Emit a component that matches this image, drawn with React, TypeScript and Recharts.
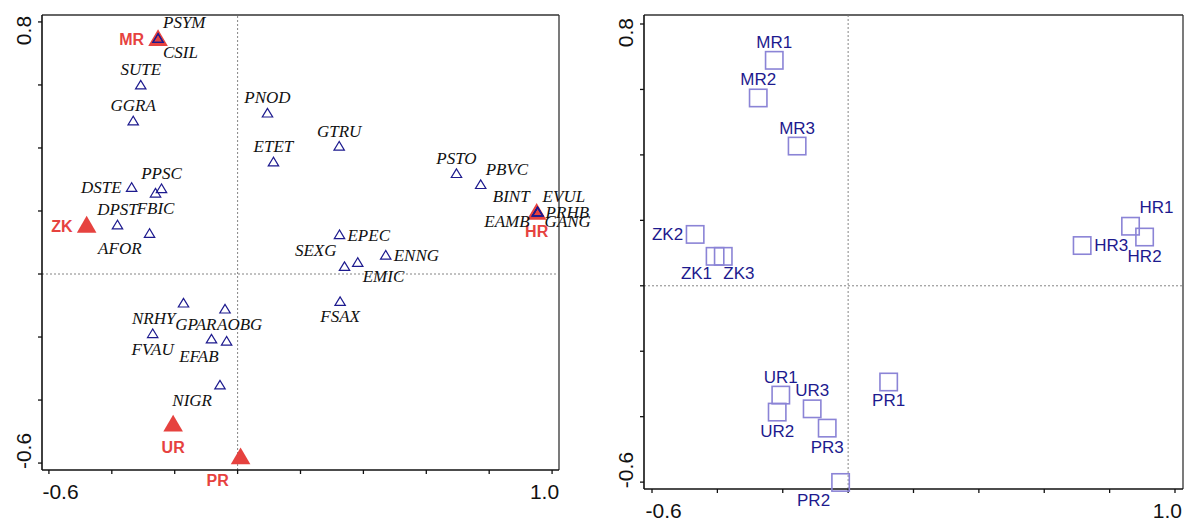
import React from 'react';
import { ScatterChart, Scatter, XAxis, YAxis, ReferenceLine } from 'recharts';

// ---------- data ----------
const xTicks = [-0.6, -0.4, -0.2, 0, 0.2, 0.4, 0.6, 0.8, 1.0];
const yTicks = [-0.6, -0.4, -0.2, 0, 0.2, 0.4, 0.6, 0.8];

const speciesNames = ['PSYM', 'CSIL', 'SUTE', 'GGRA', 'PNOD', 'ETET', 'GTRU', 'PSTO', 'PBVC', 'BINT', 'EVUL', 'PRHB', 'EAMB', 'GANG', 'DSTE', 'PPSC', 'FBIC', 'DPST', 'AFOR', 'EPEC', 'ENNG', 'SEXG', 'EMIC', 'FSAX', 'NRHY', 'AOBG', 'FVAU', 'GPAR', 'EFAB', 'NIGR'];
const speciesAxis1 = [-0.253, -0.253, -0.308, -0.332, 0.095, 0.114, 0.323, 0.696, 0.773, 0.954, 0.954, 0.954, 0.954, 0.954, -0.337, -0.242, -0.261, -0.382, -0.28, 0.324, 0.471, 0.34, 0.382, 0.326, -0.172, -0.04, -0.27, -0.083, -0.035, -0.056];
const speciesAxis2 = [0.748, 0.748, 0.6, 0.486, 0.511, 0.356, 0.406, 0.319, 0.284, 0.197, 0.197, 0.197, 0.197, 0.197, 0.275, 0.271, 0.257, 0.156, 0.129, 0.125, 0.06, 0.024, 0.037, -0.087, -0.092, -0.111, -0.189, -0.206, -0.213, -0.352];
const speciesLabelSide = ['aboveRight', 'belowRight', 'above', 'above', 'above', 'above', 'above', 'above', 'aboveRight', 'aboveLeft', 'aboveRight', 'right', 'lowLeft', 'lowRight', 'left', 'above', 'below', 'above', 'belowLeft', 'right', 'right', 'aboveLeft', 'belowRight', 'below', 'belowLeft', 'belowStart', 'below', 'aboveEnd', 'belowLeft', 'belowLeft'];

const envNames = ['MR', 'ZK', 'HR', 'UR', 'PR'];
const envAxis1 = [-0.253, -0.48, 0.951, -0.205, 0.0095];
const envAxis2 = [0.748, 0.156, 0.197, -0.475, -0.579];
const envLabelSide = ['left', 'left', 'belowNear', 'below', 'belowLeft'];

const sampleNames = ['MR1', 'MR2', 'MR3', 'ZK1', 'ZK2', 'ZK3', 'HR1', 'HR2', 'HR3', 'UR1', 'UR2', 'UR3', 'PR1', 'PR2', 'PR3'];
const sampleAxis1 = [-0.226, -0.275, -0.156, -0.407, -0.468, -0.382, 0.864, 0.907, 0.716, -0.206, -0.217, -0.11, 0.124, -0.023, -0.064];
const sampleAxis2 = [0.689, 0.574, 0.427, 0.09, 0.157, 0.09, 0.182, 0.149, 0.123, -0.334, -0.386, -0.376, -0.294, -0.601, -0.435];
const sampleLabelSide = ['above', 'above', 'above', 'belowLeftNear', 'left', 'belowRightNear', 'aboveRight', 'below', 'right', 'above', 'below', 'above', 'below', 'belowLeft', 'below'];

// ---------- layout / style ----------
const LEFT_DOMAIN_X: [number, number] = [-0.622, 1.022];
const LEFT_DOMAIN_Y: [number, number] = [-0.622, 0.822];
const RIGHT_DOMAIN_X: [number, number] = [-0.6245, 1.0245];
const RIGHT_DOMAIN_Y: [number, number] = [-0.621, 0.8275];

const SANS = '"Liberation Sans", Arial, sans-serif';
const SERIF = '"Liberation Serif", "Times New Roman", serif';
const NAVY = '#1d1a8e';
const RED = '#e6423f';
const LAVENDER = '#8b84d6';

type Anchor = 'start' | 'middle' | 'end';
const SPECIES_OFFSETS: Record<string, [Anchor, number, number]> = {
  above: ['middle', 0, -9.5],
  below: ['middle', 0, 21],
  left: ['end', -10, 6],
  right: ['start', 8, 6],
  aboveRight: ['start', 5, -10],
  aboveLeft: ['end', -8, -10],
  belowRight: ['start', 5, 20],
  belowLeft: ['end', -8, 21],
  lowLeft: ['end', -8, 15],
  lowRight: ['start', 7, 15],
  belowStart: ['start', -8, 21],
  aboveEnd: ['end', 5, -9],
};
const ENV_OFFSETS: Record<string, [Anchor, number, number]> = {
  left: ['end', -14, 7],
  below: ['middle', 0, 29.5],
  belowNear: ['middle', 0, 25],
  belowLeft: ['middle', -23, 29.5],
};
const SAMPLE_OFFSETS: Record<string, [Anchor, number, number]> = {
  above: ['middle', 0, -12.5],
  below: ['middle', 0, 24.5],
  left: ['end', -12, 5.5],
  right: ['start', 12, 5.5],
  aboveRight: ['start', 9, -13],
  belowLeft: ['end', -10.5, 24],
  belowLeftNear: ['end', -3, 23],
  belowRightNear: ['start', 0, 23],
};

const speciesData = speciesNames.map((name, i) => ({ name, x: speciesAxis1[i], y: speciesAxis2[i], side: speciesLabelSide[i] }));
const envData = envNames.map((name, i) => ({ name, x: envAxis1[i], y: envAxis2[i], side: envLabelSide[i] }));
const sampleData = sampleNames.map((name, i) => ({ name, x: sampleAxis1[i], y: sampleAxis2[i], side: sampleLabelSide[i] }));

const SpeciesMark = (props: any) => {
  const { cx, cy, payload } = props;
  const [anchor, dx, dy] = SPECIES_OFFSETS[payload.side];
  return (
    <g>
      <path d={`M${cx},${cy - 4.6} L${cx - 5.2},${cy + 4} L${cx + 5.2},${cy + 4} Z`} fill="none" stroke={NAVY} strokeWidth={1.2} />
      <text x={cx + dx} y={cy + dy} textAnchor={anchor} fontFamily={SERIF} fontStyle="italic" fontSize={17} fill="#111">{payload.name}</text>
    </g>
  );
};

const EnvMark = (props: any) => {
  const { cx, cy, payload } = props;
  const [anchor, dx, dy] = ENV_OFFSETS[payload.side];
  return (
    <g>
      <path d={`M${cx},${cy - 9} L${cx - 9.8},${cy + 7.8} L${cx + 9.8},${cy + 7.8} Z`} fill={RED} stroke="none" />
      <text x={cx + dx} y={cy + dy} textAnchor={anchor} fontFamily={SANS} fontWeight="bold" fontSize={16} fill={RED}>{payload.name}</text>
    </g>
  );
};

const SampleMark = (props: any) => {
  const { cx, cy, payload } = props;
  const [anchor, dx, dy] = SAMPLE_OFFSETS[payload.side];
  return (
    <g>
      <rect x={cx - 8.7} y={cy - 8.7} width={17.4} height={17.4} fill="none" stroke={LAVENDER} strokeWidth={1.6} />
      <text x={cx + dx} y={cy + dy} textAnchor={anchor} fontFamily={SANS} fontSize={17} fill={NAVY}>{payload.name}</text>
    </g>
  );
};

const XTick = (props: any) => {
  const { x, y, payload } = props;
  const v = payload.value;
  const first = v === xTicks[0];
  const last = v === xTicks[xTicks.length - 1];
  if (!first && !last) return <g />;
  return (
    <text x={first ? x - 6.5 : x + 7} y={y + 25} textAnchor={first ? 'start' : 'end'} fontFamily={SANS} fontSize={21} fill="#111">
      {v.toFixed(1)}
    </text>
  );
};

const YTick = (props: any) => {
  const { x, y, payload } = props;
  const v = payload.value;
  const top = v === yTicks[yTicks.length - 1];
  const bottom = v === yTicks[0];
  if (!top && !bottom) return <g />;
  const tx = x - 7;
  const ty = top ? y - 6 : y + 6;
  return (
    <text x={tx} y={ty} transform={`rotate(-90 ${tx} ${ty})`} textAnchor={top ? 'end' : 'start'} fontFamily={SANS} fontSize={21} fill="#111">
      {v.toFixed(1)}
    </text>
  );
};

const axisLine = { stroke: '#111', strokeWidth: 1.6 };
const tickLine = { stroke: '#111', strokeWidth: 1.3 };

function Frame(dx: [number, number], dy: [number, number]) {
  return [
    <ReferenceLine key="top" y={dy[1]} stroke="#333" strokeWidth={1.3} ifOverflow="visible" />,
    <ReferenceLine key="right" x={dx[1]} stroke="#333" strokeWidth={1.3} ifOverflow="visible" />,
    <ReferenceLine key="v0" x={0} stroke="#777" strokeWidth={0.9} strokeDasharray="2 2" ifOverflow="visible" />,
    <ReferenceLine key="h0" y={0} stroke="#777" strokeWidth={0.9} strokeDasharray="2 2" ifOverflow="visible" />,
  ];
}

export default function App() {
  return (
    <div style={{ position: 'absolute', left: 0, top: 0, width: 1184, height: 519, background: '#fff' }}>
      <div style={{ position: 'absolute', left: 0, top: 0 }}>
        <ScatterChart width={600} height={519} margin={{ top: 15, right: 41, bottom: 0, left: 0 }} style={{ overflow: 'visible' }}>
          <XAxis type="number" dataKey="x" domain={LEFT_DOMAIN_X} ticks={xTicks} interval={0} tickSize={4} tickMargin={0} height={49} axisLine={axisLine} tickLine={tickLine} tick={<XTick />} />
          <YAxis type="number" dataKey="y" domain={LEFT_DOMAIN_Y} ticks={yTicks} interval={0} tickSize={4} tickMargin={0} width={42} axisLine={axisLine} tickLine={tickLine} tick={<YTick />} />
          {Frame(LEFT_DOMAIN_X, LEFT_DOMAIN_Y)}
          <Scatter data={envData} shape={(p: any) => <EnvMark {...p} />} isAnimationActive={false} />
          <Scatter data={speciesData} shape={(p: any) => <SpeciesMark {...p} />} isAnimationActive={false} />
        </ScatterChart>
      </div>
      <div style={{ position: 'absolute', left: 584, top: 0 }}>
        <ScatterChart width={600} height={519} margin={{ top: 15, right: 1, bottom: 0, left: 0 }}>
          <XAxis type="number" dataKey="x" domain={RIGHT_DOMAIN_X} ticks={xTicks} interval={0} tickSize={4} tickMargin={0} height={30} axisLine={axisLine} tickLine={tickLine} tick={<XTick />} />
          <YAxis type="number" dataKey="y" domain={RIGHT_DOMAIN_Y} ticks={yTicks} interval={0} tickSize={4} tickMargin={0} width={60} axisLine={axisLine} tickLine={tickLine} tick={<YTick />} />
          {Frame(RIGHT_DOMAIN_X, RIGHT_DOMAIN_Y)}
          <Scatter data={sampleData} shape={(p: any) => <SampleMark {...p} />} isAnimationActive={false} />
        </ScatterChart>
      </div>
    </div>
  );
}
